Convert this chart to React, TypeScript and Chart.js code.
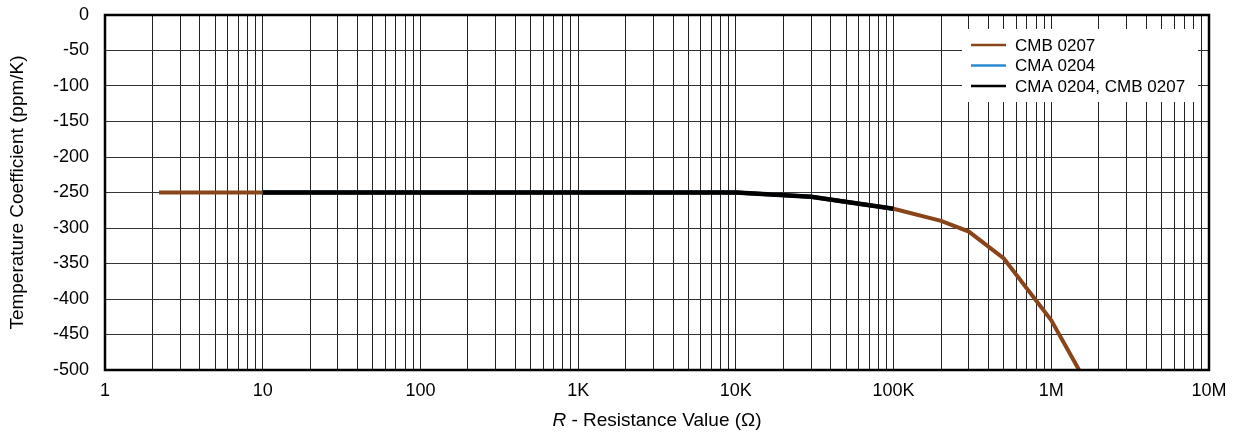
import React, { useEffect, useRef } from "react";
import { Chart, registerables } from "chart.js";

Chart.register(...registerables);

// ---- data ----
const cmbResistance = [2.2, 10, 100, 1000, 10000, 30000, 100000, 200000, 300000, 500000, 1000000, 1500000];
const cmbTempCoeff = [-250, -250, -250, -250, -250, -256, -273, -290, -305, -343, -430, -500];

const cmaResistance = [10, 100, 1000, 10000, 30000, 100000];
const cmaTempCoeff = [-250, -250, -250, -250, -256, -273];

const bothResistance = [10, 100, 1000, 10000, 30000, 100000];
const bothTempCoeff = [-250, -250, -250, -250, -256, -273];

const seriesLabels = ["CMB 0207", "CMA 0204", "CMA 0204, CMB 0207"];
const seriesColors = ["#8a4419", "#2a8ad0", "#000000"];

const xDecades = [1, 10, 100, 1000, 10000, 100000, 1000000, 10000000];
const xDecadeLabels = ["1", "10", "100", "1K", "10K", "100K", "1M", "10M"];
const yMin = -500;
const yMax = 0;
const yStep = 50;

const xTitleItalic = "R";
const xTitleRest = " - Resistance Value (Ω)";
const yTitle = "Temperature Coefficient (ppm/K)";

const FONT = "'Liberation Sans', Arial, Helvetica, sans-serif";
const TICK_SIZE = 18;
const TITLE_SIZE = 19;
const LEGEND_SIZE = 17;

function toPoints(xs: number[], ys: number[]) {
  return xs.map((x, i) => ({ x, y: ys[i] }));
}

const frameAndLegend = {
  id: "frameAndLegend",
  afterDraw(chart: any) {
    const { ctx, chartArea } = chart;
    const { left, top, right, bottom } = chartArea;
    ctx.save();
    // legend box
    const boxR = right - 11;
    const boxL = boxR - 236;
    const boxT = top + 14;
    const boxB = top + 87;
    ctx.fillStyle = "#ffffff";
    ctx.fillRect(boxL, boxT, boxR - boxL, boxB - boxT);
    ctx.font = `${LEGEND_SIZE}px ${FONT}`;
    ctx.textBaseline = "middle";
    ctx.textAlign = "left";
    [0, 1, 2].forEach((di, r) => {
      const ds = chart.data.datasets[di];
      const y = boxT + 16 + r * 20.5;
      ctx.strokeStyle = ds.borderColor;
      ctx.lineWidth = 2.5;
      ctx.beginPath();
      ctx.moveTo(boxL + 9, y);
      ctx.lineTo(boxL + 44, y);
      ctx.stroke();
      ctx.fillStyle = "#000";
      ctx.fillText(ds.label, boxL + 53, y + 1);
    });
    // frame
    ctx.strokeStyle = "#000";
    ctx.lineWidth = 2.5;
    ctx.strokeRect(left, top, right - left, bottom - top);

    // x title with italic R
    const cx = (left + right) / 2;
    const ty = chart.height - 14;
    ctx.fillStyle = "#000";
    ctx.textBaseline = "middle";
    ctx.font = `italic ${TITLE_SIZE}px ${FONT}`;
    const wI = ctx.measureText(xTitleItalic).width;
    ctx.font = `${TITLE_SIZE}px ${FONT}`;
    const wR = ctx.measureText(xTitleRest).width;
    const sx = cx - (wI + wR) / 2;
    ctx.textAlign = "left";
    ctx.font = `italic ${TITLE_SIZE}px ${FONT}`;
    ctx.fillText(xTitleItalic, sx, ty);
    ctx.font = `${TITLE_SIZE}px ${FONT}`;
    ctx.fillText(xTitleRest, sx + wI, ty);

    // y title
    ctx.translate(18, (top + bottom) / 2);
    ctx.rotate(-Math.PI / 2);
    ctx.textAlign = "center";
    ctx.fillText(yTitle, 0, 0);
    ctx.restore();
  },
};

export default function App() {
  const ref = useRef<HTMLCanvasElement | null>(null);

  useEffect(() => {
    if (!ref.current) return;
    const minorTicks: number[] = [];
    for (let d = 0; d < xDecades.length - 1; d++) {
      for (let m = 1; m <= 9; m++) minorTicks.push(xDecades[d] * m);
    }
    minorTicks.push(xDecades[xDecades.length - 1]);

    const chart = new Chart(ref.current, {
      type: "line",
      data: {
        datasets: [
          {
            label: seriesLabels[0],
            data: toPoints(cmbResistance, cmbTempCoeff),
            borderColor: seriesColors[0],
            backgroundColor: seriesColors[0],
            borderWidth: 4,
            pointRadius: 0,
            tension: 0,
            order: 2,
          },
          {
            label: seriesLabels[1],
            data: toPoints(cmaResistance, cmaTempCoeff),
            borderColor: seriesColors[1],
            backgroundColor: seriesColors[1],
            borderWidth: 4,
            pointRadius: 0,
            tension: 0,
            order: 1,
          },
          {
            label: seriesLabels[2],
            data: toPoints(bothResistance, bothTempCoeff),
            borderColor: seriesColors[2],
            backgroundColor: seriesColors[2],
            borderWidth: 4.5,
            pointRadius: 0,
            tension: 0,
            order: 0,
          },
        ],
      },
      options: {
        responsive: false,
        animation: false,
        layout: { padding: { top: 15, right: 26, left: 0, bottom: 0 } },
        plugins: {
          legend: { display: false },
          tooltip: { enabled: false },
        },
        scales: {
          x: {
            type: "logarithmic",
            min: xDecades[0],
            max: xDecades[xDecades.length - 1],
            afterBuildTicks: (scale: any) => {
              scale.ticks = minorTicks.map((v) => ({ value: v, major: xDecades.includes(v) }));
            },
            afterFit: (scale: any) => {
              scale.height = 65;
              scale.paddingTop = 0;
              scale.paddingBottom = 0;
              scale.paddingLeft = 0;
              scale.paddingRight = 0;
            },
            grid: { color: "#222", lineWidth: 1, drawTicks: false },
            border: { display: false },
            ticks: {
              autoSkip: false,
              maxRotation: 0,
              padding: 10,
              color: "#000",
              font: { family: FONT, size: TICK_SIZE },
              callback: (value: any) => {
                const i = xDecades.indexOf(Number(value));
                return i >= 0 ? xDecadeLabels[i] : "";
              },
            },
          },
          y: {
            type: "linear",
            min: yMin,
            max: yMax,
            afterFit: (scale: any) => {
              scale.width = 105;
              scale.paddingTop = 0;
              scale.paddingBottom = 0;
              scale.paddingLeft = 0;
              scale.paddingRight = 0;
            },
            grid: { color: "#333", lineWidth: 1, drawTicks: false },
            border: { display: false },
            ticks: {
              stepSize: yStep,
              padding: 16,
              color: "#000",
              font: { family: FONT, size: TICK_SIZE },
            },
          },
        },
      },
      plugins: [frameAndLegend],
    });
    return () => chart.destroy();
  }, []);

  return (
    <div style={{ position: "absolute", left: 0, top: 0, width: 1235, height: 435 }}>
      <canvas ref={ref} width={1235} height={435} style={{ display: "block" }} />
    </div>
  );
}
